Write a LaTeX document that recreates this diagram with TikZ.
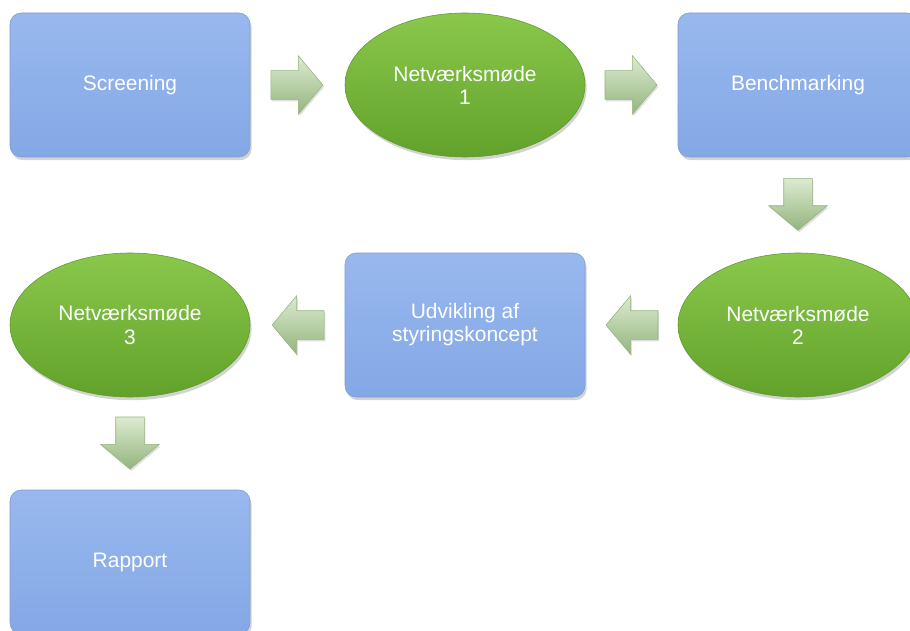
\documentclass[tikz,border=0pt]{standalone}
\usepackage{fontspec}
\setmainfont{Liberation Sans}
\usetikzlibrary{shapes.geometric,shapes.arrows,shadows,positioning}

\definecolor{boxtop}{HTML}{98B8EE}
\definecolor{boxbot}{HTML}{84A8E6}
\definecolor{boxline}{HTML}{7B9CD2}
\definecolor{meettop}{HTML}{8AC84C}
\definecolor{meetbot}{HTML}{62A22A}
\definecolor{meetline}{HTML}{5E9A2C}
\definecolor{arrlight}{HTML}{DCEBD0}
\definecolor{arrdark}{HTML}{94B47E}

\begin{document}
\begin{tikzpicture}[
		% Styles
		task/.style={rectangle, rounded corners=0.28cm, draw=boxline, top color=boxtop, bottom color=boxbot, minimum width=6cm, minimum height=3.6cm, text=white, align=center, font=\fontsize{14.9}{16.4}\selectfont, drop shadow={opacity=0.35, shadow xshift=0.04cm, shadow yshift=-0.08cm}},
		meeting/.style={ellipse, draw=meetline, top color=meettop, bottom color=meetbot, minimum width=6cm, minimum height=3.6cm, inner sep=0pt, text=white, align=center, font=\fontsize{14.9}{16.4}\selectfont, drop shadow={opacity=0.35, shadow xshift=0.04cm, shadow yshift=-0.08cm}},
		% Arrows
		flowarrow/.style={single arrow, draw=arrdark, left color=arrlight, right color=arrdark, shading angle=0, minimum height=1.3cm, inner sep=0.35cm, single arrow head extend=0.375cm, single arrow tip angle=100, pos=0.43, sloped, allow upside down, drop shadow={opacity=0.25, shadow xshift=0.03cm, shadow yshift=-0.05cm}},
		]

		\useasboundingbox (0,0) rectangle (22.75,15.75);
		\clip (0,0) rectangle (22.75,15.75);

		% Top row
		\node[task] (screening) at (3.25,13.625) {Screening};
		\node[meeting] (meet1) at (11.625,13.625) {Netværksmøde\\1};
		\node[task] (bench) at (19.95,13.625) {Benchmarking};

		% Middle row
		\node[meeting] (meet2) at (19.95,7.625) {Netværksmøde\\2};
		\node[task] (concept) at (11.625,7.625) {Udvikling af\\styringskoncept};
		\node[meeting] (meet3) at (3.25,7.625) {Netværksmøde\\3};

		% Bottom
		\node[task] (report) at (3.25,1.7) {Rapport};

		% Connections
		\path (screening) -- node[flowarrow] {} (meet1);
		\path (meet1) -- node[flowarrow] {} (bench);
		\path (bench) -- node[flowarrow] {} (meet2);
		\path (meet2) -- node[flowarrow] {} (concept);
		\path (concept) -- node[flowarrow] {} (meet3);
		\path (meet3) -- node[flowarrow] {} (report);

	\end{tikzpicture}
\end{document}
